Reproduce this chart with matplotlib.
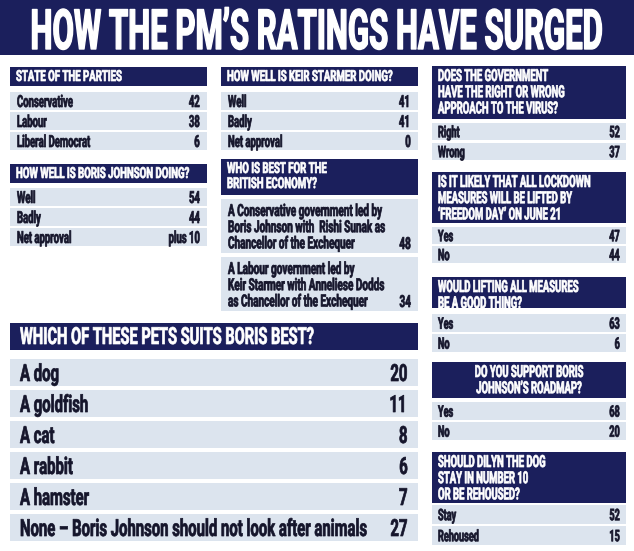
import matplotlib
matplotlib.use("Agg")
import matplotlib.pyplot as plt
from matplotlib.patches import Rectangle
from matplotlib.patheffects import AbstractPathEffect
from matplotlib.transforms import Affine2D, Bbox
from matplotlib.text import Text

# --------------------------------------------------
# Poll data
# --------------------------------------------------
title = "HOW THE PM\u2019S RATINGS HAVE SURGED"

parties_q = "STATE OF THE PARTIES"
parties_labels = ["Conservative", "Labour", "Liberal Democrat"]
parties_vals = ["42", "38", "6"]

boris_q = "HOW WELL IS BORIS JOHNSON DOING?"
boris_labels = ["Well", "Badly", "Net approval"]
boris_vals = ["54", "44", "plus 10"]

starmer_q = "HOW WELL IS KEIR STARMER DOING?"
starmer_labels = ["Well", "Badly", "Net approval"]
starmer_vals = ["41", "41", "0"]

economy_q = "WHO IS BEST FOR THE\nBRITISH ECONOMY?"
economy_labels = ["A Conservative government led by\nBoris Johnson with  Rishi Sunak as\nChancellor of the Exchequer",
                  "A Labour government led by\nKeir Starmer with Anneliese Dodds\nas Chancellor of the Exchequer"]
economy_vals = ["48", "34"]

approach_q = "DOES THE GOVERNMENT\nHAVE THE RIGHT OR WRONG\nAPPROACH TO THE VIRUS?"
approach_labels = ["Right", "Wrong"]
approach_vals = ["52", "37"]

lockdown_q = "IS IT LIKELY THAT ALL LOCKDOWN\nMEASURES WILL BE LIFTED BY\n\u2018FREEDOM DAY\u2019 ON JUNE 21"
lockdown_labels = ["Yes", "No"]
lockdown_vals = ["47", "44"]

lifting_q = "WOULD LIFTING ALL MEASURES\nBE A GOOD THING?"
lifting_labels = ["Yes", "No"]
lifting_vals = ["63", "6"]

roadmap_q = "DO YOU SUPPORT BORIS\nJOHNSON\u2019S ROADMAP?"
roadmap_labels = ["Yes", "No"]
roadmap_vals = ["68", "20"]

dilyn_q = "SHOULD DILYN THE DOG\nSTAY IN NUMBER 10\nOR BE REHOUSED?"
dilyn_labels = ["Stay", "Rehoused"]
dilyn_vals = ["52", "15"]

pets_q = "WHICH OF THESE PETS SUITS BORIS BEST?"
pets_labels = ["A dog", "A goldfish", "A cat", "A rabbit", "A hamster",
               "None \u2013 Boris Johnson should not look after animals"]
pets_vals = ["20", "11", "8", "6", "7", "27"]

# --------------------------------------------------
# Style
# --------------------------------------------------
NAVY = "#1b1f5c"
ROW = "#dce4ee"
INK = "#15152b"
FONT = ["Roboto", "DejaVu Sans"]
SQ = 0.57


class Squeeze(AbstractPathEffect):
    """Draw text glyphs horizontally compressed and a bit heavier."""

    def __init__(self, sx, anchor="left", lw=0.5):
        super().__init__()
        self.sx = sx
        self.anchor = anchor
        self.lw = lw

    def draw_path(self, renderer, gc, tpath, affine, rgbFace=None):
        ext = tpath.get_extents()
        if self.anchor == "right":
            w = ext.x1
        elif self.anchor == "center":
            w = (ext.x0 + ext.x1) / 2
        else:
            w = 0
        t = Affine2D().translate(-w, 0).scale(self.sx, 1).translate(w, 0) + affine
        gc0 = renderer.new_gc()
        gc0.copy_properties(gc)
        gc0.set_linewidth(self.lw)
        gc0.set_foreground(rgbFace)
        gc0.set_joinstyle("round")
        renderer.draw_path(gc0, tpath, t, rgbFace)
        gc0.restore()


class CondText(Text):
    """Text drawn condensed; reported extent matches what is drawn."""

    def __init__(self, *args, sx=SQ, lw=0.5, **kwargs):
        super().__init__(*args, **kwargs)
        self.sx = sx
        self.set_path_effects([Squeeze(sx, self.get_horizontalalignment(), lw)])

    def get_window_extent(self, renderer=None, dpi=None):
        bb = super().get_window_extent(renderer, dpi)
        ha = self.get_horizontalalignment()
        w = bb.width * self.sx
        if ha == "right":
            x0, x1 = bb.x1 - w, bb.x1
        elif ha == "center":
            c = (bb.x0 + bb.x1) / 2
            x0, x1 = c - w / 2, c + w / 2
        else:
            x0, x1 = bb.x0, bb.x0 + w
        return Bbox.from_extents(x0, bb.y0, x1, bb.y1)


fig = plt.figure(figsize=(6.34, 5.51), dpi=100)
ax = fig.add_axes([0, 0, 1, 1])
ax.set_xlim(0, 634)
ax.set_ylim(551, 0)
ax.axis("off")


def put(x, y, s, size, color, ha="left", va="baseline", sx=SQ, ls=1.1, lw=0.5):
    t = CondText(x, y, s, fontsize=size, color=color, ha=ha, va=va,
                 fontweight="bold", family=FONT, linespacing=ls, sx=sx, lw=lw,
                 transform=ax.transData)
    ax.add_artist(t)


def panel(x0, x1, top, hh, q, labels, vals, qsize, tsize, row_h, gap,
          hgap=5, qha="left", multiline=False, pad=7, qpad=6, qsx=SQ, tsx=SQ):
    ax.add_patch(Rectangle((x0, top), x1 - x0, hh, color=NAVY, lw=0))
    qx = {"left": x0 + qpad, "center": (x0 + x1) / 2}[qha]
    put(qx, top + 3, q, qsize, "white", ha=qha, va="top", sx=qsx, ls=1.1)
    y = top + hh + hgap
    for lab, val in zip(labels, vals):
        ax.add_patch(Rectangle((x0, y), x1 - x0, row_h, color=ROW, lw=0))
        if multiline:
            put(x0 + pad, y + 5, lab, tsize, INK, va="top", sx=tsx, ls=1.1)
            put(x1 - pad, y + row_h - 4, val, tsize, INK, ha="right", sx=tsx)
        else:
            base = y + row_h / 2 + tsize * 0.5
            put(x0 + pad, base, lab, tsize, INK, sx=tsx)
            put(x1 - pad, base, val, tsize, INK, ha="right", sx=tsx)
        y += row_h + gap


# --------------------------------------------------
# Title banner
# --------------------------------------------------
ax.add_patch(Rectangle((0, 0), 634, 55, color=NAVY, lw=0))
put(316, 49, title, 40, "white", ha="center", sx=0.56, lw=1.0)

# --------------------------------------------------
# Panels
# --------------------------------------------------
panel(10, 207, 67, 19, parties_q, parties_labels, parties_vals, 11, 12, 18, 2,
      hgap=6, qsx=0.63)
panel(10, 207, 164, 19, boris_q, boris_labels, boris_vals, 11, 12, 18, 2,
      hgap=5, qsx=0.63)
panel(221, 418, 67, 19, starmer_q, starmer_labels, starmer_vals, 11, 12, 18, 2,
      hgap=6, qsx=0.63)
panel(221, 418, 159, 36, economy_q, economy_labels, economy_vals, 11, 12, 54, 4,
      hgap=4, multiline=True, qsx=0.63, tsx=0.6)

panel(432, 626, 66, 53, approach_q, approach_labels, approach_vals, 12, 11.5, 17, 3, hgap=4, pad=6)
panel(432, 626, 172, 51, lockdown_q, lockdown_labels, lockdown_vals, 12, 11.5, 17, 2, hgap=4, pad=6)
panel(432, 626, 277, 31, lifting_q, lifting_labels, lifting_vals, 12, 11.5, 18, 2, hgap=6, pad=6)
panel(432, 626, 362, 36, roadmap_q, roadmap_labels, roadmap_vals, 12, 11.5, 18, 2, hgap=4,
      qha="center", pad=6)
panel(432, 626, 452, 51, dilyn_q, dilyn_labels, dilyn_vals, 12, 11.5, 19, 2, hgap=2, pad=6)

panel(10, 418, 323, 27, pets_q, pets_labels, pets_vals, 17, 17, 27, 4, hgap=9, pad=10,
      qpad=10, qsx=0.62, tsx=0.63)

plt.savefig("out.png", dpi=100)
